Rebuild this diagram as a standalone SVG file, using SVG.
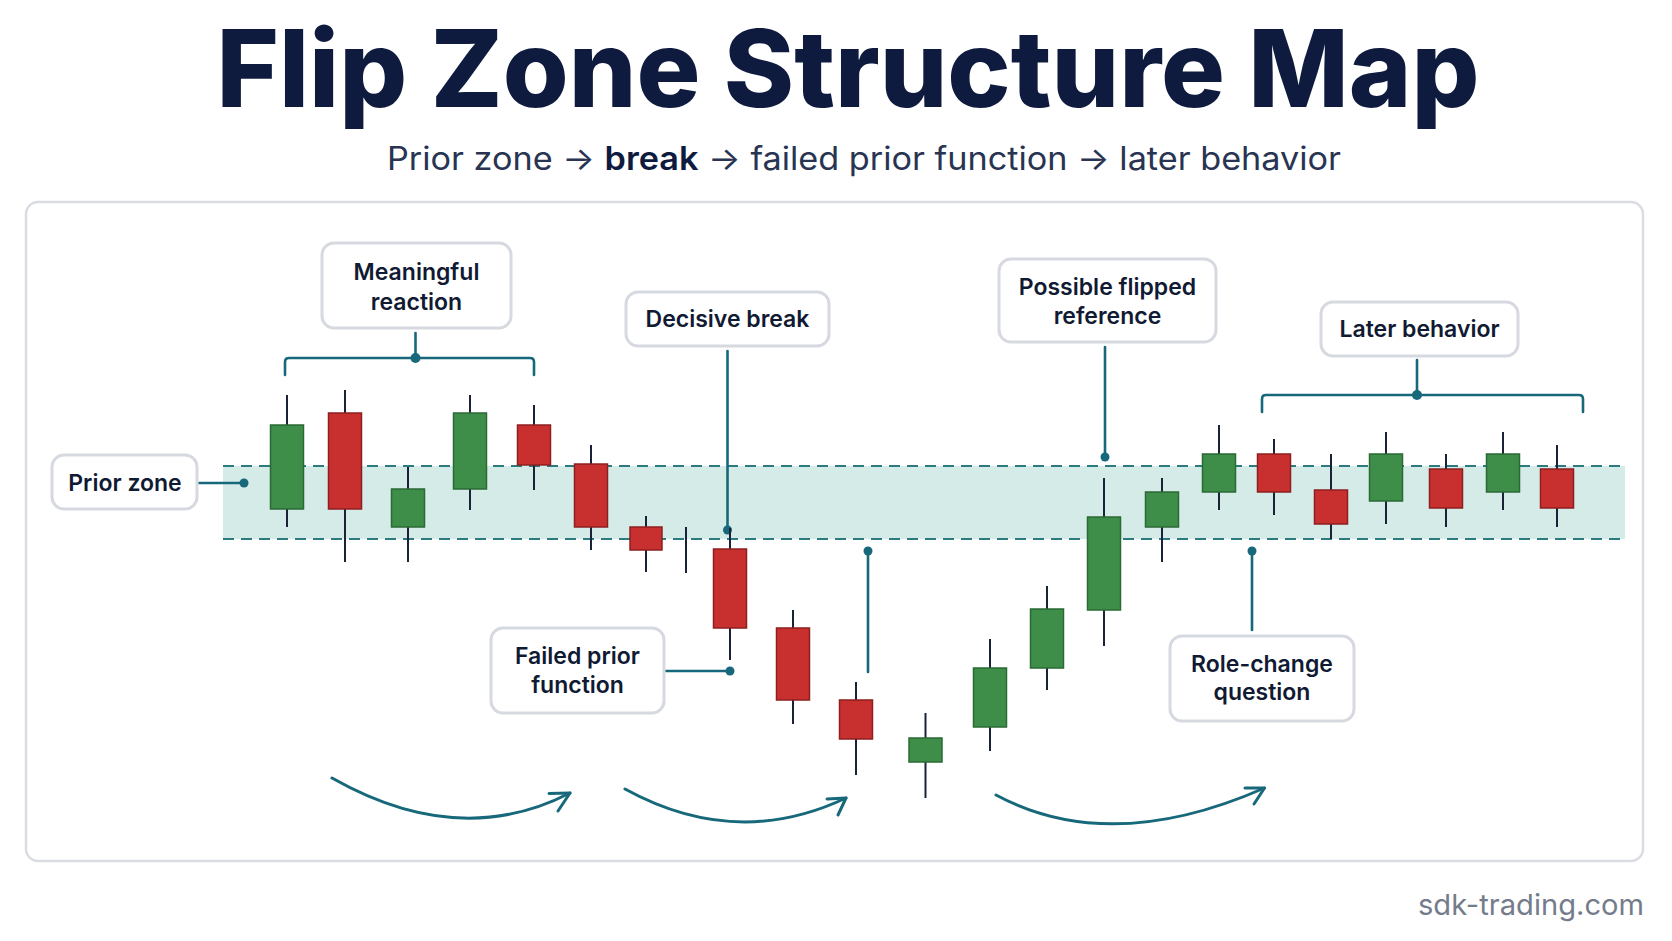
<svg xmlns="http://www.w3.org/2000/svg" width="1672" height="941" viewBox="0 0 1672 941">
  <defs>
    <style>
      .title{font-family:Inter,"Liberation Sans",sans-serif;font-weight:800;fill:#0e1a3e}
      .sub{font-family:Inter,"Liberation Sans",sans-serif;font-weight:400;fill:#283452}
      .subb{font-weight:600;fill:#0e1a3e}
      .box{fill:#ffffff;stroke:#d6d9df;stroke-width:3}
      .lbl{font-family:Inter,"Liberation Sans",sans-serif;font-weight:600;font-size:23px;fill:#111a33;text-anchor:middle}
      .con{fill:none;stroke:#17687a;stroke-width:2.6;stroke-linecap:round}
      .dot{fill:#17687a}
      .arc{fill:none;stroke:#17687a;stroke-width:3;stroke-linecap:round;stroke-linejoin:round}
      .zl{stroke:#2b7b80;stroke-width:1.8;stroke-dasharray:11 7}
      .wick{stroke:#1a2238;stroke-width:2}
      .g{fill:#3e8e4a;stroke:#2a6a34;stroke-width:1.5}
      .r{fill:#c83030;stroke:#8e1f1f;stroke-width:1.5}
      .wm{font-family:Inter,"Liberation Sans",sans-serif;font-weight:400;font-size:29px;fill:#747c8b;text-anchor:end}
    </style>
  </defs>
  <rect width="1672" height="941" fill="#ffffff"/>

  <g id="title">
    <text class="title" x="848" y="107" font-size="107" text-anchor="middle" textLength="1263" lengthAdjust="spacingAndGlyphs">Flip Zone Structure Map</text>
    <text class="sub" x="864" y="170" font-size="32" text-anchor="middle" textLength="954" lengthAdjust="spacingAndGlyphs">Prior zone → <tspan class="subb">break</tspan> → failed prior function → later behavior</text>
  </g>

  <g id="panel">
    <rect x="26" y="202" width="1617" height="659" rx="12" fill="#ffffff" stroke="#d9dce2" stroke-width="2.5"/>
  </g>

  <g id="zone">
    <rect x="223" y="466" width="1402" height="73" fill="#d5ebe8"/>
    <line class="zl" x1="223" y1="466" x2="1625" y2="466"/>
    <line class="zl" x1="223" y1="539" x2="1625" y2="539"/>
  </g>

  <g id="connectors">
    <line class="con" x1="199" y1="483" x2="244" y2="483"/>
    <circle class="dot" cx="244" cy="483" r="4.5"/>
    <line class="con" x1="415.5" y1="333" x2="415.5" y2="358"/>
    <path class="con" d="M285,375 V362 Q285,358 289,358 H530 Q534,358 534,362 V375"/>
    <circle class="dot" cx="415.5" cy="358" r="5"/>
    <line class="con" x1="727.5" y1="351" x2="727.5" y2="530"/>
    <circle class="dot" cx="727.5" cy="530" r="4.5"/>
    <line class="con" x1="666" y1="671" x2="730" y2="671"/>
    <circle class="dot" cx="730" cy="671" r="4.5"/>
    <line class="con" x1="868" y1="551" x2="868" y2="672"/>
    <circle class="dot" cx="868" cy="551" r="4.5"/>
    <line class="con" x1="1105" y1="347" x2="1105" y2="457"/>
    <circle class="dot" cx="1105" cy="457" r="4.5"/>
    <line class="con" x1="1417" y1="360" x2="1417" y2="395"/>
    <path class="con" d="M1262,412 V399 Q1262,395 1266,395 H1579 Q1583,395 1583,399 V412"/>
    <circle class="dot" cx="1417" cy="395" r="5"/>
    <line class="con" x1="1252" y1="551" x2="1252" y2="630"/>
    <circle class="dot" cx="1252" cy="551" r="4.5"/>
    <path class="arc" d="M332,778 Q459,850 570,793"/>
    <path class="arc" d="M549,793.5 L570,793 L558,811"/>
    <path class="arc" d="M625,789 Q736,850 846,798"/>
    <path class="arc" d="M827,799 L846,798 L838,815"/>
    <path class="arc" d="M996,795 Q1110,856 1264.5,788"/>
    <path class="arc" d="M1245,788 L1264.5,788 L1254,804"/>
  </g>

  <g id="candles">
    <line class="wick" x1="287" y1="395" x2="287" y2="527"/><rect class="g" x="270.5" y="425" width="33" height="84"/>
    <line class="wick" x1="345" y1="390" x2="345" y2="562"/><rect class="r" x="328.5" y="413" width="33" height="96"/>
    <line class="wick" x1="408" y1="467" x2="408" y2="562"/><rect class="g" x="391.5" y="489" width="33" height="38"/>
    <line class="wick" x1="470" y1="395" x2="470" y2="510"/><rect class="g" x="453.5" y="413" width="33" height="76"/>
    <line class="wick" x1="534" y1="405" x2="534" y2="490"/><rect class="r" x="517.5" y="425" width="33" height="40"/>
    <line class="wick" x1="591" y1="445" x2="591" y2="550"/><rect class="r" x="574.5" y="464" width="33" height="63"/>
    <line class="wick" x1="646" y1="516" x2="646" y2="572"/><rect class="r" x="630" y="527" width="32" height="23"/>
    <line class="wick" x1="686" y1="527" x2="686" y2="573"/>
    <line class="wick" x1="730" y1="528" x2="730" y2="660"/><rect class="r" x="713.5" y="549" width="33" height="79"/>
    <line class="wick" x1="793" y1="610" x2="793" y2="724"/><rect class="r" x="776.5" y="628" width="33" height="72"/>
    <line class="wick" x1="856" y1="682" x2="856" y2="775"/><rect class="r" x="839.5" y="700" width="33" height="39"/>
    <line class="wick" x1="925.5" y1="713" x2="925.5" y2="798"/><rect class="g" x="909" y="738" width="33" height="24"/>
    <line class="wick" x1="990" y1="639" x2="990" y2="751"/><rect class="g" x="973.5" y="668" width="33" height="59"/>
    <line class="wick" x1="1047" y1="586" x2="1047" y2="690"/><rect class="g" x="1030.5" y="609" width="33" height="59"/>
    <line class="wick" x1="1104" y1="478" x2="1104" y2="646"/><rect class="g" x="1087.5" y="517" width="33" height="93"/>
    <line class="wick" x1="1162" y1="478" x2="1162" y2="562"/><rect class="g" x="1145.5" y="492" width="33" height="35"/>
    <line class="wick" x1="1219" y1="425" x2="1219" y2="510"/><rect class="g" x="1202.5" y="454" width="33" height="38"/>
    <line class="wick" x1="1274" y1="439" x2="1274" y2="515"/><rect class="r" x="1257.5" y="454" width="33" height="38"/>
    <line class="wick" x1="1331" y1="454" x2="1331" y2="539"/><rect class="r" x="1314.5" y="490" width="33" height="34"/>
    <line class="wick" x1="1386" y1="432" x2="1386" y2="524"/><rect class="g" x="1369.5" y="454" width="33" height="47"/>
    <line class="wick" x1="1446" y1="454" x2="1446" y2="527"/><rect class="r" x="1429.5" y="469" width="33" height="39"/>
    <line class="wick" x1="1503" y1="432" x2="1503" y2="510"/><rect class="g" x="1486.5" y="454" width="33" height="38"/>
    <line class="wick" x1="1557" y1="445" x2="1557" y2="527"/><rect class="r" x="1540.5" y="469" width="33" height="39"/>
  </g>

  <g id="node-prior-zone">
    <rect class="box" x="52" y="455" width="145" height="54" rx="12"/>
    <text class="lbl" x="125" y="491">Prior zone</text>
  </g>
  <g id="node-meaningful-reaction">
    <rect class="box" x="322" y="243" width="189" height="85" rx="12"/>
    <text class="lbl" x="416.5" y="280">Meaningful</text>
    <text class="lbl" x="416.5" y="310">reaction</text>
  </g>
  <g id="node-decisive-break">
    <rect class="box" x="626" y="292" width="203" height="54" rx="12"/>
    <text class="lbl" x="727.5" y="327">Decisive break</text>
  </g>
  <g id="node-possible-flipped">
    <rect class="box" x="999" y="259" width="217" height="83" rx="12"/>
    <text class="lbl" x="1107.5" y="295">Possible flipped</text>
    <text class="lbl" x="1107.5" y="324">reference</text>
  </g>
  <g id="node-later-behavior">
    <rect class="box" x="1321" y="302" width="197" height="54" rx="12"/>
    <text class="lbl" x="1419.5" y="337">Later behavior</text>
  </g>
  <g id="node-failed-prior">
    <rect class="box" x="491" y="628" width="173" height="85" rx="12"/>
    <text class="lbl" x="577.5" y="664">Failed prior</text>
    <text class="lbl" x="577.5" y="693">function</text>
  </g>
  <g id="node-role-change">
    <rect class="box" x="1170" y="636" width="184" height="85" rx="12"/>
    <text class="lbl" x="1262" y="672">Role-change</text>
    <text class="lbl" x="1262" y="700">question</text>
  </g>

  <g id="watermark">
    <text class="wm" x="1644" y="915" textLength="226" lengthAdjust="spacingAndGlyphs">sdk-trading.com</text>
  </g>
</svg>
